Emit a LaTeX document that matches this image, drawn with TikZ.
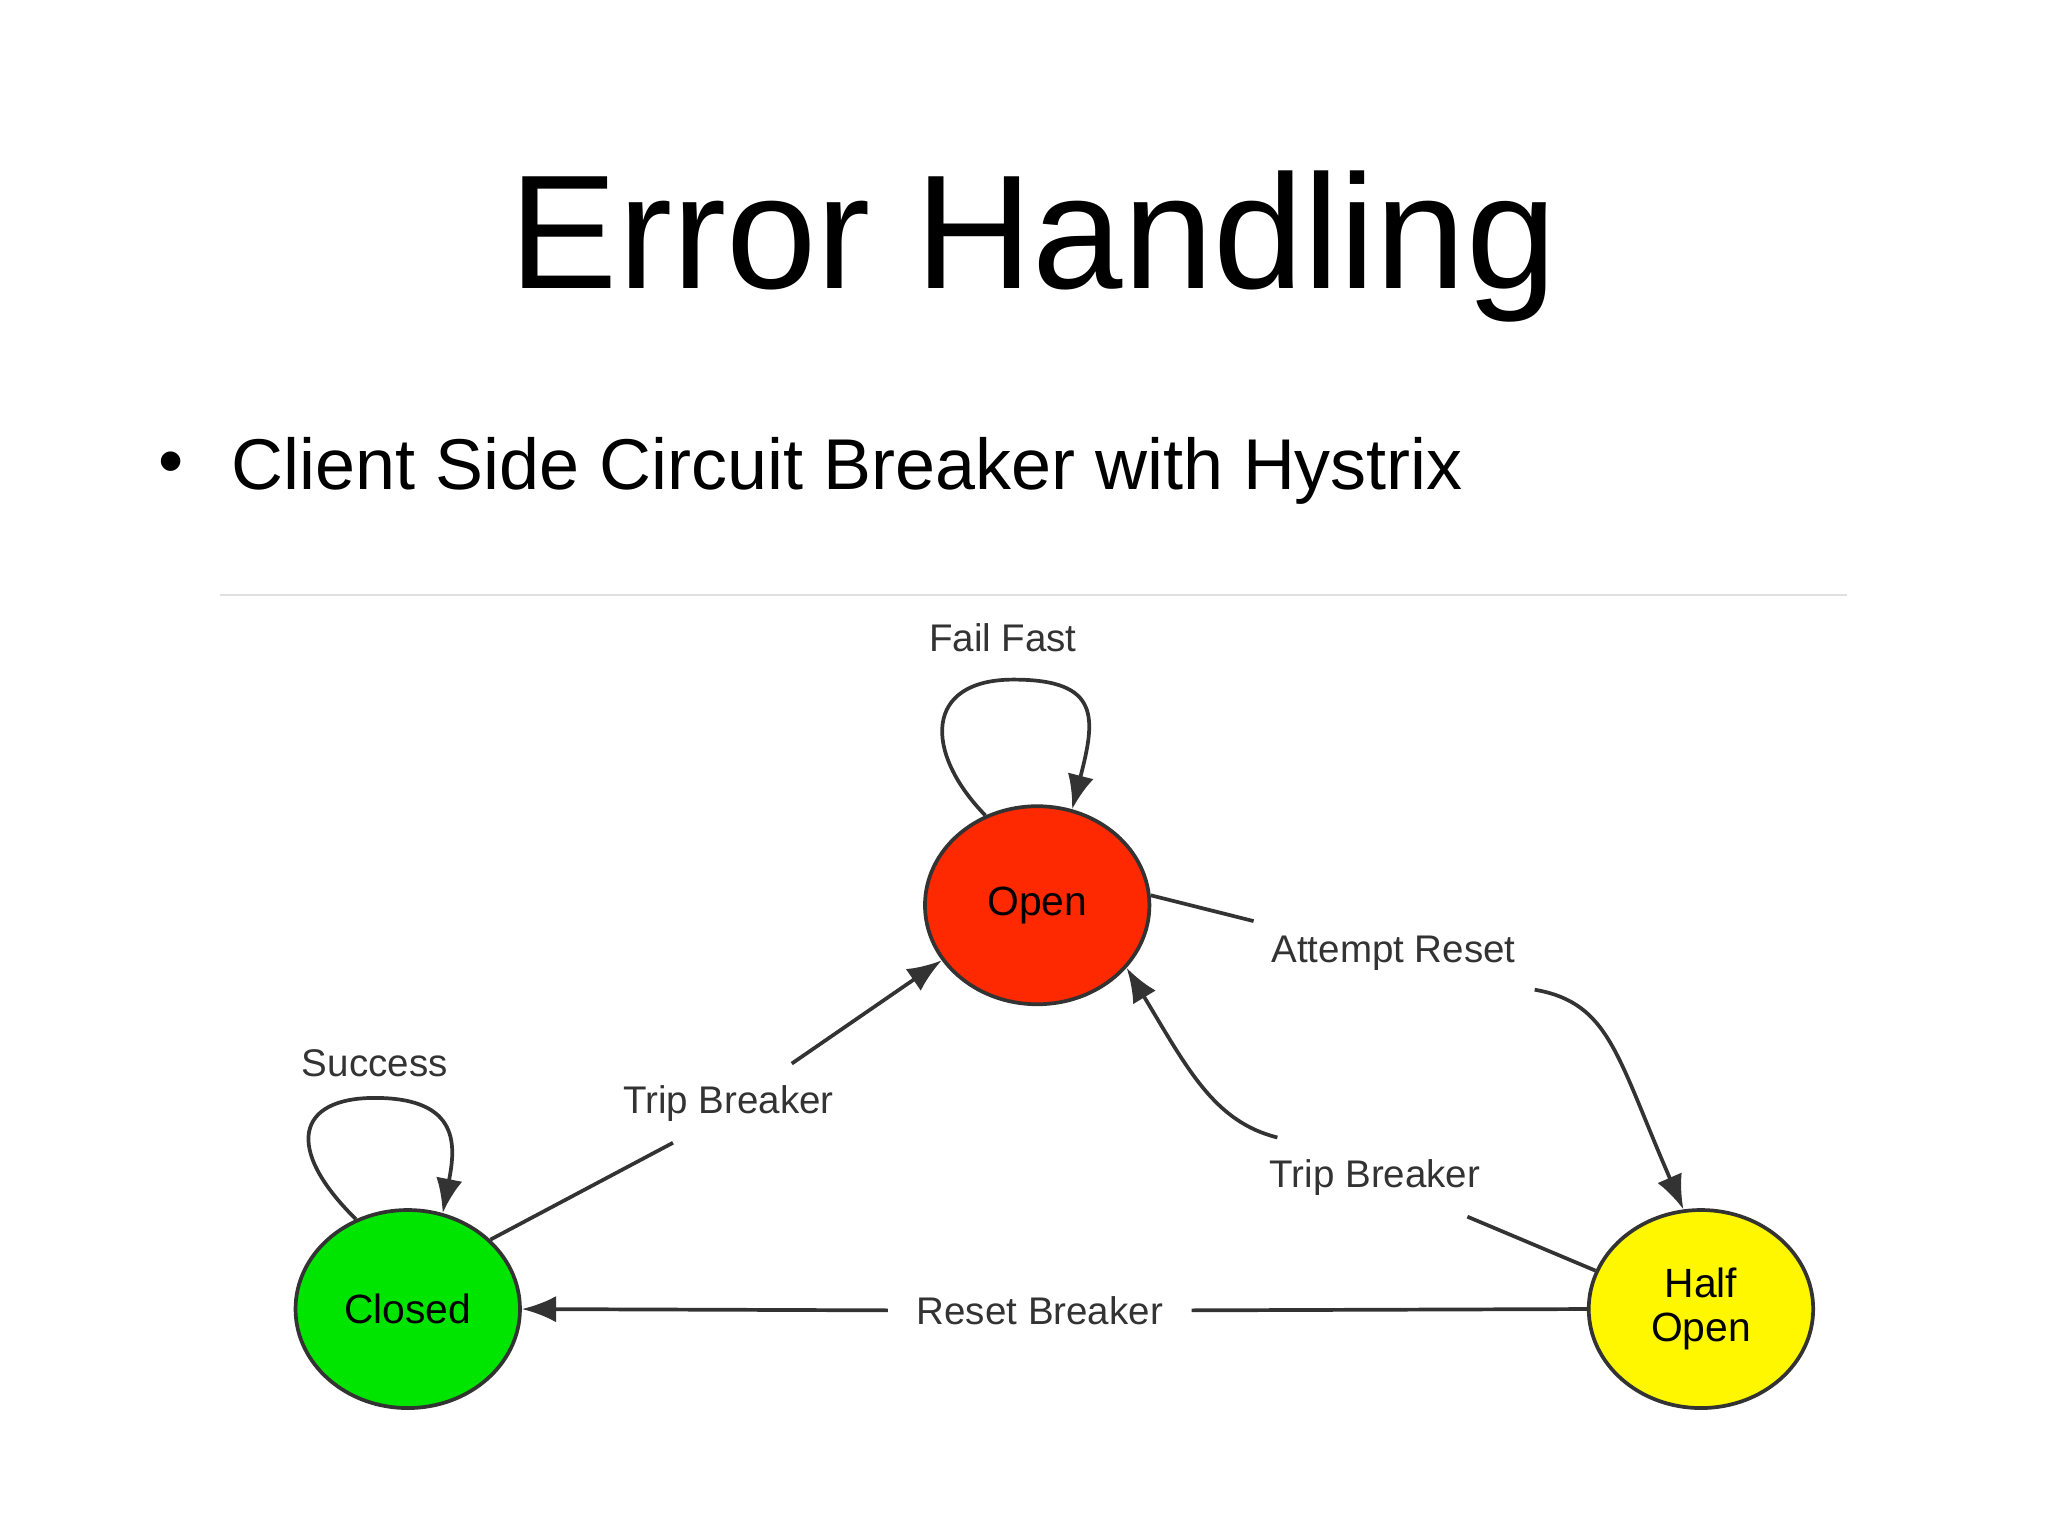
\documentclass[tikz,border=0pt]{standalone}
\usepackage{fontspec}
\setmainfont{Liberation Sans}
\usetikzlibrary{arrows.meta,positioning,shapes.geometric}
\definecolor{openRed}{rgb}{1,0.16,0}
\definecolor{closedGreen}{rgb}{0,0.9,0}
\definecolor{halfYellow}{rgb}{1,0.97,0}
\tikzset{
	stateNode/.style={
		ellipse,
		draw=black!80,
		thick,
		inner sep=0pt,
		minimum width=1.7cm,
		minimum height=1.5cm,
		font=\fontsize{8.8pt}{9.5pt}\selectfont,
		align=center,
		#1
	},
	edgeLabel/.style={
		font=\fontsize{8.3pt}{9pt}\selectfont,
		text=black!80,
		inner sep=1pt
	},
	trans/.style={
		draw=black!80,
		thick,
		-{Latex[length=2.6mm,width=2mm]}
	},
}
\begin{document}
\begin{tikzpicture}[x=0.01cm,y=-0.01cm]
\useasboundingbox (0,0) rectangle (1552,1164);
% heading
\node (title) at (783,187) {\fontsize{35pt}{38pt}\selectfont Error Handling};
\node (dot) at (130,355) {\fontsize{15.5pt}{18pt}\selectfont\textbullet};
\node[anchor=west,inner sep=0pt] (bullet) at (175,357) {\fontsize{15.5pt}{18pt}\selectfont Client Side Circuit Breaker with Hystrix};
\draw[black!12] (167,451) -- (1400,451);
% states
\node[stateNode={fill=openRed}] (open) at (786,686) {Open};
\node[stateNode={fill=closedGreen}] (closed) at (309,992) {Closed};
\node[stateNode={fill=halfYellow}] (half) at (1289,992) {Half\\Open};
% labels
\node[edgeLabel] (failFast) at (760,483) {Fail Fast};
\node[edgeLabel] (success) at (284,806) {Success};
\node[edgeLabel] (tripLeft) at (552,836) {Trip Breaker};
\node[edgeLabel] (attempt) at (1056,722) {Attempt Reset};
\node[edgeLabel] (tripRight) at (1042,892) {Trip Breaker};
\node[edgeLabel,inner sep=6pt] (reset) at (788,993) {Reset Breaker};
% self loops
\draw[trans] (open.120) .. controls (700,570) and (700,515) .. (768,515)
	.. controls (835,515) and (830,545) .. (open.70);
\draw[trans] (closed.120) .. controls (215,870) and (225,832) .. (284,832)
	.. controls (350,832) and (345,870) .. (closed.70);
% transitions
\draw[draw=black!80,thick] (closed.40) -- (510,866);
\draw[trans] (600,806) -- (open.210);
\draw[draw=black!80,thick] (open.5) -- (950,698);
\draw[trans] (1163,750) .. controls (1220,760) and (1225,800) .. (half.100);
\draw[draw=black!80,thick] (half.160) -- (1112,922);
\draw[trans] (968,862) .. controls (920,850) and (900,810) .. (open.325);
\draw[draw=black!80,thick] (half.west) -- (reset.east);
\draw[trans] (reset.west) -- (closed.east);
\end{tikzpicture}
\end{document}
